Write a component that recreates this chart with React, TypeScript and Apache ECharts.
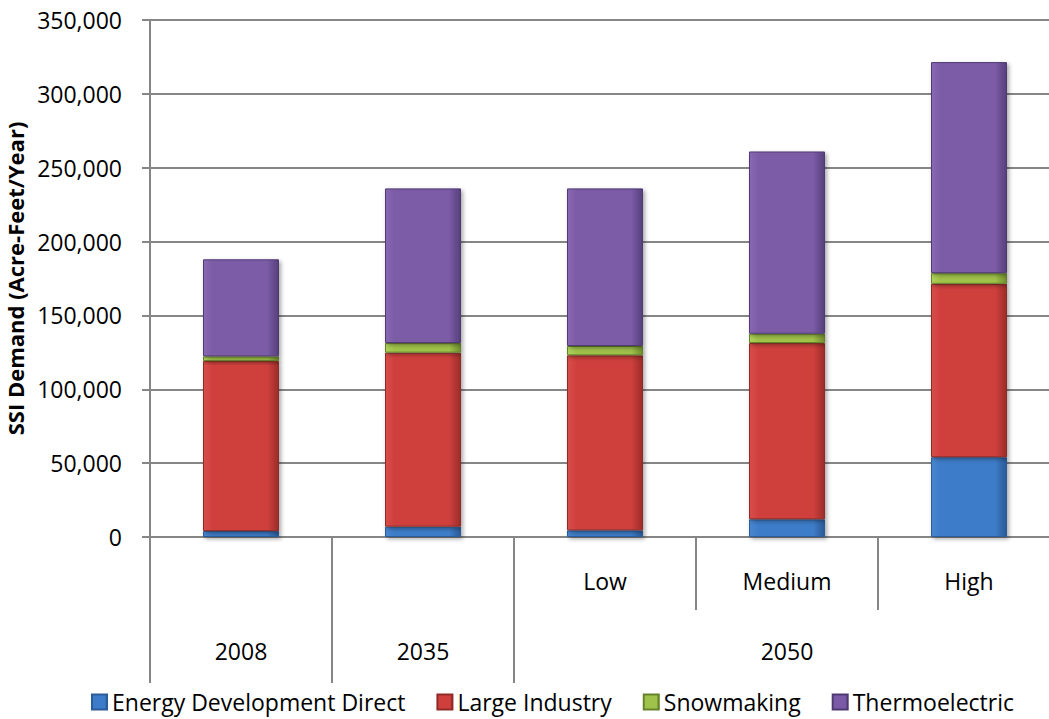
import React, { useEffect, useRef } from "react";
import * as echarts from "echarts";

const categories = ["2008", "2035", "Low", "Medium", "High"];
const groupLabels = ["2008", "2035", "", "2050", ""];
const seriesNames = ["Energy Development Direct", "Large Industry", "Snowmaking", "Thermoelectric"];
const energyDevelopment = [4000, 7000, 4500, 12000, 54000];
const largeIndustry = [115100, 117800, 118500, 119300, 117400];
const snowmaking = [3200, 6500, 6300, 6300, 7200];
const thermoelectric = [65700, 104700, 106700, 123400, 142900];
const yMax = 350000;
const yStep = 50000;

const FONT = "'Open Sans', 'Noto Sans', sans-serif";

function grad(edge: string, mid: string, dark: string) {
  return new echarts.graphic.LinearGradient(0, 0, 1, 0, [
    { offset: 0, color: edge },
    { offset: 0.12, color: mid },
    { offset: 0.85, color: mid },
    { offset: 1, color: dark },
  ]);
}

export default function App() {
  const ref = useRef<HTMLDivElement>(null);
  useEffect(() => {
    if (!ref.current) return;
    const chart = echarts.init(ref.current, undefined, { renderer: "svg" });
    const palette = [
      { edge: "#4a86cf", mid: "#3d7cc8", dark: "#2a5a97", border: "#2c5d9a" },
      { edge: "#d84d4a", mid: "#cf403d", dark: "#9c2c2a", border: "#8f2a27" },
      { edge: "#b0d25c", mid: "#9fc24a", dark: "#6f8d2c", border: "#66822a" },
      { edge: "#8a68b3", mid: "#7b5ba7", dark: "#56407a", border: "#4f3a72" },
    ];
    const values = [energyDevelopment, largeIndustry, snowmaking, thermoelectric];
    const series = seriesNames.map((name, i) => ({
      name,
      type: "bar",
      stack: "total",
      barWidth: 76,
      xAxisIndex: 0,
      data: values[i],
      itemStyle: {
        color: grad(palette[i].edge, palette[i].mid, palette[i].dark),
        borderColor: palette[i].border,
        borderWidth: 1,
        shadowBlur: 4,
        shadowColor: "rgba(0,0,0,0.35)",
        shadowOffsetX: 2,
        shadowOffsetY: 2,
      },
    }));
    chart.setOption({
      animation: false,
      textStyle: { fontFamily: FONT, color: "#000" },
      grid: {
        left: 150,
        top: 20,
        width: 910,
        bottom: 182,
        containLabel: false,
        outerBoundsMode: "none",
      },
      legend: {
        left: 86,
        top: 684,
        itemWidth: 15,
        itemHeight: 15,
        itemGap: 31,
        icon: "rect",
        textStyle: { fontFamily: FONT, fontSize: 23, lineHeight: 26, color: "#000" },
        data: seriesNames,
      },
      xAxis: [
        {
          type: "category",
          data: categories,
          position: "bottom",
          axisLine: { show: true, lineStyle: { color: "#868686", width: 2 } },
          axisTick: {
            show: true,
            length: 73,
            interval: (index: number) => index === 3 || index === 4,
            lineStyle: { color: "#868686", width: 2 },
          },
          axisLabel: {
            show: true,
            interval: 0,
            margin: 32,
            fontSize: 23,
            fontFamily: FONT,
            color: "#000",
            formatter: (v: string, i: number) => (i >= 2 ? v : ""),
          },
          splitLine: { show: false },
        },
        {
          type: "category",
          data: groupLabels,
          position: "bottom",
          gridIndex: 0,
          axisLine: { show: false },
          axisTick: {
            show: true,
            length: 146,
            interval: (index: number) => index <= 2,
            lineStyle: { color: "#868686", width: 2 },
          },
          axisLabel: {
            show: true,
            interval: 0,
            margin: 102,
            fontSize: 23,
            fontFamily: FONT,
            color: "#000",
          },
          splitLine: { show: false },
        },
      ],
      yAxis: {
        type: "value",
        min: 0,
        max: yMax,
        interval: yStep,
        name: "SSI Demand (Acre-Feet/Year)",
        nameLocation: "middle",
        nameRotate: 90,
        nameGap: 117,
        nameTextStyle: { fontFamily: FONT, fontSize: 22, fontWeight: "bold", color: "#000" },
        axisLine: { show: true, lineStyle: { color: "#868686", width: 2 } },
        axisTick: { show: true, inside: false, length: 8, lineStyle: { color: "#868686", width: 2 } },
        axisLabel: {
          fontSize: 23,
          fontFamily: FONT,
          color: "#000",
          margin: 28,
          formatter: (v: number) => v.toLocaleString("en-US"),
        },
        splitLine: { show: true, lineStyle: { color: "#868686", width: 2 } },
      },
      series,
    });
    return () => chart.dispose();
  }, []);
  return (
    <div
      ref={ref}
      style={{ position: "absolute", left: 0, top: 0, width: 1049, height: 719, background: "#fff" }}
    />
  );
}
